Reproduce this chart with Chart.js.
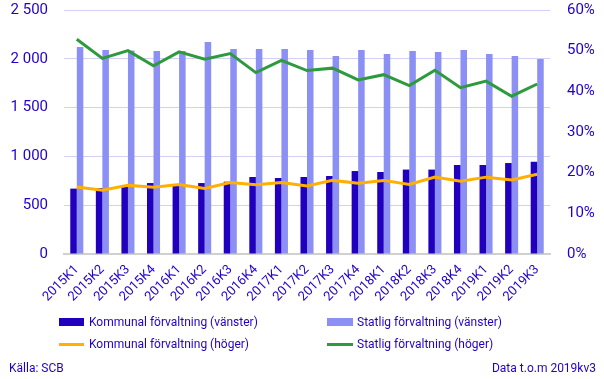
<!DOCTYPE html>
<html>
<head>
<meta charset="utf-8">
<script src="https://cdn.jsdelivr.net/npm/chart.js@4/dist/chart.umd.min.js"></script>
<style>
  html, body { margin: 0; padding: 0; background: #ffffff; }
  #wrap { position: relative; width: 604px; height: 379px; font-family: Roboto, "Noto Sans", sans-serif; color: #2200cc; }
  #c { position: absolute; left: 0; top: 0; }
  .lg { position: absolute; font-size: 12px; line-height: 14px; white-space: nowrap; }
  .sw { position: absolute; }
  .ft { position: absolute; font-size: 12px; line-height: 14px; white-space: nowrap; }
</style>
</head>
<body>
<div id="wrap">
  <canvas id="c" width="604" height="379"></canvas>
  <div class="sw" style="left:59px;top:318px;width:25px;height:8px;background:#2000be;"></div>
  <div class="lg" style="left:89px;top:315px;">Kommunal förvaltning (vänster)</div>
  <div class="sw" style="left:327px;top:318px;width:26px;height:8px;background:#8c8ff4;"></div>
  <div class="lg" style="left:357px;top:315px;">Statlig förvaltning (vänster)</div>
  <div class="sw" style="left:59px;top:343px;width:25px;height:3px;background:#ffb000;"></div>
  <div class="lg" style="left:89px;top:337px;">Kommunal förvaltning (höger)</div>
  <div class="sw" style="left:327px;top:343px;width:26px;height:3px;background:#2e9a3e;"></div>
  <div class="lg" style="left:357px;top:337px;">Statlig förvaltning (höger)</div>
  <div class="ft" style="left:9px;top:361px;">Källa: SCB</div>
  <div class="ft" style="right:8px;top:361px;">Data t.o.m 2019kv3</div>
</div>
<script>
const categories = ["2015K1","2015K2","2015K3","2015K4","2016K1","2016K2","2016K3","2016K4","2017K1","2017K2","2017K3","2017K4","2018K1","2018K2","2018K3","2018K4","2019K1","2019K2","2019K3"];
const kommunalLeft = [670, 675, 700, 727, 705, 727, 741, 789, 779, 789, 799, 850, 840, 865, 865, 912, 912, 932, 945];
const statligLeft = [2121, 2090, 2085, 2080, 2080, 2172, 2100, 2100, 2100, 2090, 2029, 2090, 2049, 2080, 2070, 2090, 2049, 2029, 1998];
const kommunalRight = [16.5, 15.7, 16.9, 16.4, 17.1, 16.1, 17.6, 17.0, 17.6, 16.7, 18.1, 17.4, 18.1, 17.1, 18.9, 17.9, 18.9, 18.2, 19.6];
const statligRight = [52.8, 48.1, 50.0, 46.3, 49.7, 47.9, 49.3, 44.6, 47.6, 45.1, 45.7, 42.8, 44.1, 41.4, 45.2, 40.9, 42.5, 38.8, 41.8];
const leftTicks = [0, 500, 1000, 1500, 2000, 2500];
const rightTicks = [0, 10, 20, 30, 40, 50, 60];

const txt = '#2200cc';
const fmt = v => String(v).replace(/\B(?=(\d{3})+(?!\d))/g, ' ');

new Chart(document.getElementById('c'), {
  data: {
    labels: categories,
    datasets: [
      { type: 'line', label: 'Kommunal förvaltning (höger)', data: kommunalRight, yAxisID: 'y1', borderColor: '#ffb000', borderWidth: 3, pointRadius: 0, tension: 0, order: 0 },
      { type: 'line', label: 'Statlig förvaltning (höger)', data: statligRight, yAxisID: 'y1', borderColor: '#2e9a3e', borderWidth: 3, pointRadius: 0, tension: 0, order: 0 },
      { type: 'bar', label: 'Kommunal förvaltning (vänster)', data: kommunalLeft, yAxisID: 'y', backgroundColor: '#2000be', categoryPercentage: 0.51, barPercentage: 1.0, order: 1 },
      { type: 'bar', label: 'Statlig förvaltning (vänster)', data: statligLeft, yAxisID: 'y', backgroundColor: '#8c8ff4', categoryPercentage: 0.51, barPercentage: 1.0, order: 1 }
    ]
  },
  options: {
    responsive: false,
    animation: false,
    layout: { padding: { top: 10, bottom: 73, left: 0, right: 0 } },
    plugins: { legend: { display: false }, tooltip: { enabled: false } },
    scales: {
      x: {
        grid: { display: false, drawTicks: false },
        border: { display: true, color: '#d0d0d0', width: 2 },
        ticks: { color: txt, font: { family: 'Roboto', size: 13 }, minRotation: 45, maxRotation: 45, padding: 8, autoSkip: false },
        afterFit: s => { s.height = 52; }
      },
      y: {
        position: 'left', min: 0, max: 2500,
        afterBuildTicks: s => { s.ticks = leftTicks.map(v => ({ value: v })); },
        grid: { color: '#d4d0f4', lineWidth: 1, drawTicks: true, tickLength: 16, tickColor: 'rgba(0,0,0,0)' },
        border: { display: false },
        ticks: { color: txt, font: { family: 'Roboto', size: 15 }, padding: 0, callback: v => fmt(v) },
        afterFit: s => { s.width = 64; }
      },
      y1: {
        position: 'right', min: 0, max: 60,
        afterBuildTicks: s => { s.ticks = rightTicks.map(v => ({ value: v })); },
        grid: { display: true, drawOnChartArea: false, drawTicks: true, tickLength: 17, color: 'rgba(0,0,0,0)', tickColor: 'rgba(0,0,0,0)' },
        border: { display: false },
        ticks: { color: txt, font: { family: 'Roboto', size: 15 }, padding: 0, callback: v => v + '%' },
        afterFit: s => { s.width = 54; }
      }
    }
  }
});
</script>
</body>
</html>
